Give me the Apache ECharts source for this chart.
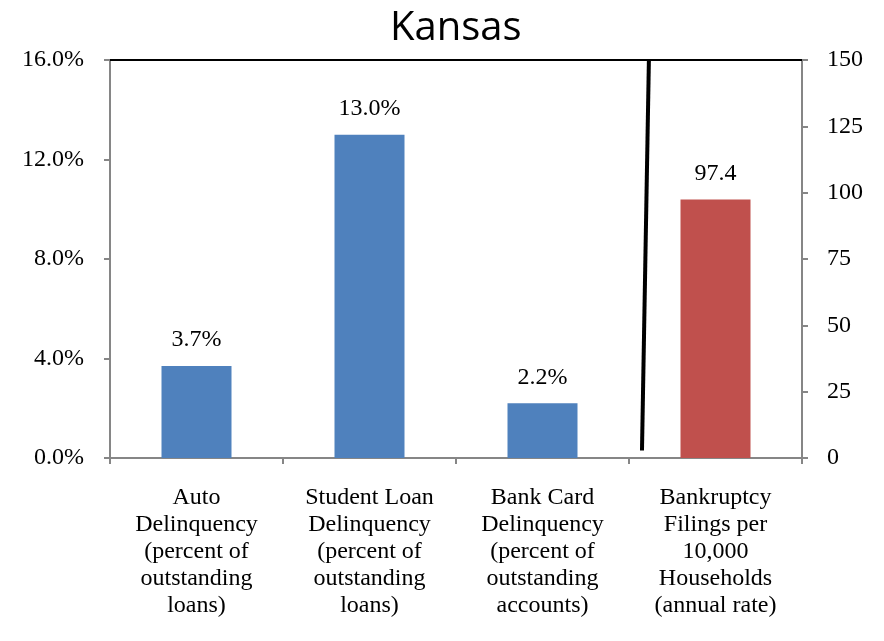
<!DOCTYPE html>
<html>
<head>
<meta charset="utf-8">
<script src="https://cdn.jsdelivr.net/npm/echarts@6/dist/echarts.min.js"></script>
<style>html,body{margin:0;padding:0;background:#fff;}#c{width:884px;height:641px;}</style>
</head>
<body>
<div id="c"></div>
<script>
var categories = [
  "Auto\nDelinquency\n(percent of\noutstanding\nloans)",
  "Student Loan\nDelinquency\n(percent of\noutstanding\nloans)",
  "Bank Card\nDelinquency\n(percent of\noutstanding\naccounts)",
  "Bankruptcy\nFilings per\n10,000\nHouseholds\n(annual rate)"
];
var percentValues = [3.7, 13.0, 2.2, '-'];
var bankruptcyValues = ['-', '-', '-', 97.4];
var leftTicks = [0, 4, 8, 12, 16];
var rightTicks = [0, 25, 50, 75, 100, 125, 150];
var dividerLine = [[3.115, 16], [3.075, 0.3]];

var serif = "'Liberation Serif', 'DejaVu Serif', serif";
var chart = echarts.init(document.getElementById('c'));
chart.setOption({
  animation: false,
  title: {
    text: 'Kansas', left: 385, top: 4,
    textStyle: {fontFamily: "'Open Sans', 'Liberation Sans', sans-serif", fontSize: 40, fontWeight: 'normal', color: '#000'}
  },
  grid: {left: 110, right: 82, top: 60, bottom: 183},
  xAxis: [{
    type: 'category', data: categories,
    axisLine: {lineStyle: {color: '#868686', width: 2}},
    axisTick: {show: true, length: 6, alignWithLabel: false, lineStyle: {color: '#868686', width: 2}},
    axisLabel: {interval: 0, margin: 26, fontFamily: serif, fontSize: 24, lineHeight: 27, color: '#000'}
  }, {
    type: 'value', min: 0, max: 4, position: 'top',
    axisLine: {show: true, onZero: false, lineStyle: {color: '#000', width: 2}},
    axisTick: {show: false}, axisLabel: {show: false}, splitLine: {show: false}
  }],
  yAxis: [{
    type: 'value', min: 0, max: 16, interval: 4, position: 'left',
    axisLine: {show: true, lineStyle: {color: '#868686', width: 2}},
    axisTick: {show: true, length: 6, lineStyle: {color: '#868686', width: 2}},
    splitLine: {show: false},
    axisLabel: {margin: 26, fontFamily: serif, fontSize: 24, color: '#000',
      formatter: function (v) { return v.toFixed(1) + '%'; }}
  }, {
    type: 'value', min: 0, max: 150, interval: 25, position: 'right',
    axisLine: {show: true, lineStyle: {color: '#868686', width: 2}},
    axisTick: {show: true, length: 6, lineStyle: {color: '#868686', width: 2}},
    splitLine: {show: false},
    axisLabel: {margin: 25, fontFamily: serif, fontSize: 24, color: '#000'}
  }],
  series: [{
    type: 'bar', data: percentValues, xAxisIndex: 0, yAxisIndex: 0,
    barWidth: 70, barGap: '-100%',
    itemStyle: {color: '#4f81bd'},
    label: {show: true, position: 'top', distance: 14, fontFamily: serif, fontSize: 24, color: '#000',
      formatter: function (p) { return p.value.toFixed(1) + '%'; }}
  }, {
    type: 'bar', data: bankruptcyValues, xAxisIndex: 0, yAxisIndex: 1,
    barWidth: 70, barGap: '-100%',
    itemStyle: {color: '#c0504d'},
    label: {show: true, position: 'top', distance: 14, fontFamily: serif, fontSize: 24, color: '#000',
      formatter: function (p) { return p.value.toFixed(1); }}
  }, {
    type: 'line', data: dividerLine, xAxisIndex: 1, yAxisIndex: 0,
    symbol: 'none', lineStyle: {color: '#000', width: 4}, silent: true
  }]
});
</script>
</body>
</html>
